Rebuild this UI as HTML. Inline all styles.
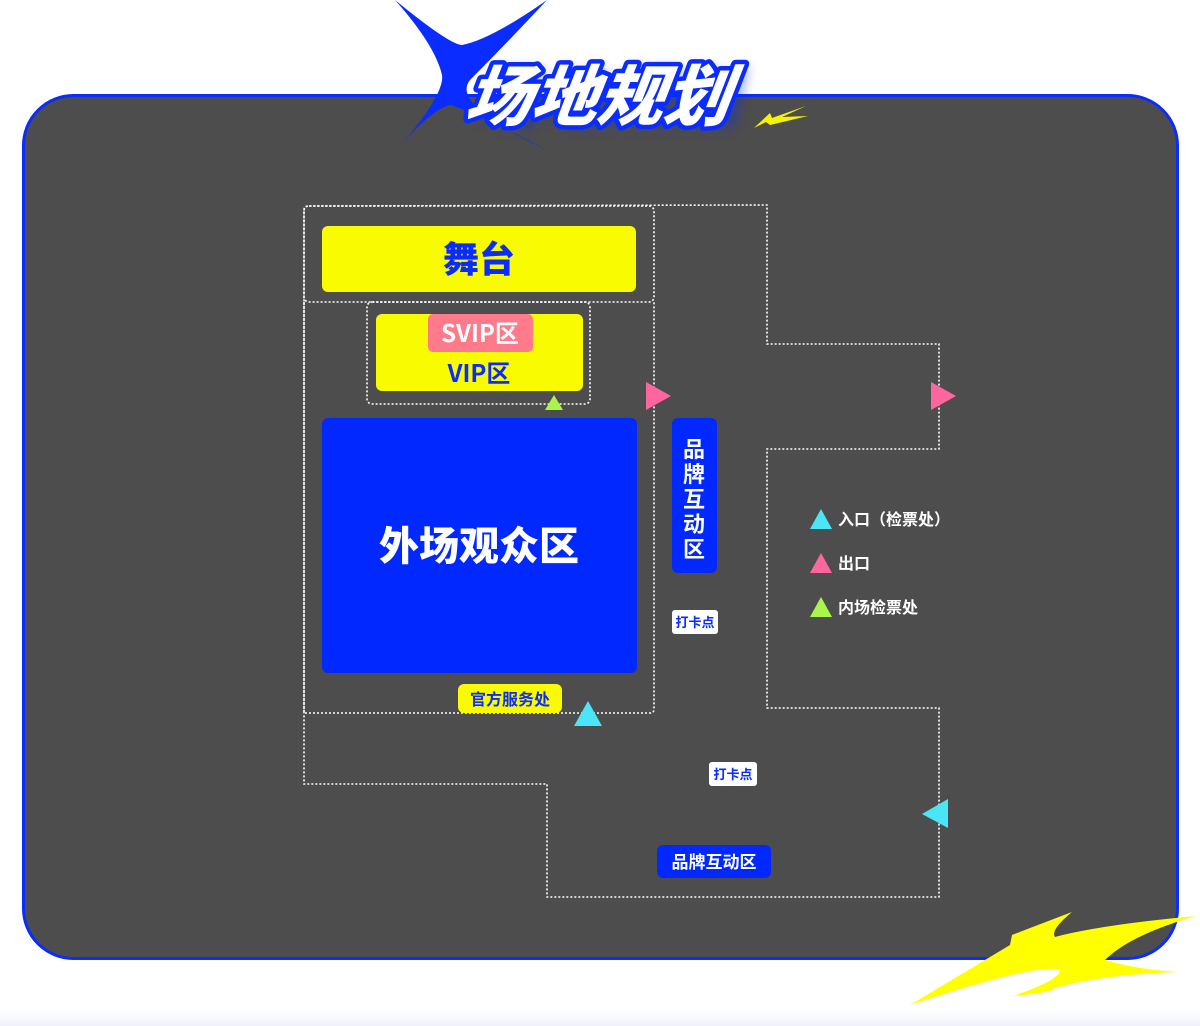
<!DOCTYPE html>
<html><head><meta charset="utf-8"><style>
html,body{margin:0;padding:0;background:#fff;}
body{width:1200px;height:1026px;position:relative;overflow:hidden;font-family:"Liberation Sans","Noto Sans CJK SC",sans-serif;}
svg{position:absolute;left:0;top:0;}
</style></head><body>
<svg width="1200" height="1026" viewBox="0 0 1200 1026" xmlns="http://www.w3.org/2000/svg">
<defs>
<linearGradient id="bg" x1="0" y1="0" x2="0" y2="1"><stop offset="0.985" stop-color="#fff"/><stop offset="1" stop-color="#f0f1fb"/></linearGradient>
<filter id="glow" x="-20%" y="-40%" width="140%" height="180%"><feGaussianBlur stdDeviation="6"/></filter>
</defs>
<rect width="1200" height="1026" fill="url(#bg)"/>
<rect x="23.5" y="95.5" width="1154" height="863" rx="50" fill="#4d4d4d" stroke="#0a2cff" stroke-width="3"/>
<!-- star -->
<path d="M395,0 Q450,45 462,45 Q490,40 547,0 Q505,45 470,80 Q450,105 547,150 Q470,110 450,105 Q430,110 395,152 Q445,95 442,75 Q435,45 395,0 Z" fill="#0a2cff"/>
<!-- title -->
<text x="606" y="122" text-anchor="middle" font-size="66" font-weight="bold" font-style="italic" fill="#0a2cff" opacity="0.6" filter="url(#glow)" font-family="'Noto Sans CJK SC',sans-serif">场地规划</text>
<text x="604" y="120" text-anchor="middle" font-size="66" font-weight="900" font-style="italic" fill="#fff" stroke="#0a2cff" stroke-width="9" paint-order="stroke" stroke-linejoin="round" font-family="'Noto Sans CJK SC',sans-serif" transform="skewX(-8) translate(8,0)">场地规划</text>
<!-- small yellow bolt -->
<path d="M754,128 L770,113 L772,118 L806,106 L782,117 L808,116 L770,125 L766,122 Z" fill="#f5f500"/>
<!-- big yellow bolt -->
<path d="M910,1005 Q960,975 1010,945 L1012,935 Q1030,928 1072,912 Q1050,930 1055,937 Q1100,925 1196,916 Q1130,935 1105,960 Q1140,970 1178,972 Q1100,975 1055,988 Q1050,993 1013,996 Q1060,980 1060,970 Q1040,962 910,1005 Z" fill="#ffff00"/>
<!-- dotted outlines -->
<g fill="none" stroke="#fff" stroke-width="1.6" stroke-dasharray="2,2">
<path d="M304,210 Q304,206 308,206 L767,205 L767,344 L939,344 L939,449 L767,449 L767,708 L939,708 L939,897 L547,897 L547,784 L304,784 Z"/>
<rect x="304" y="206" width="350" height="96" rx="5"/>
<path d="M304,302 L304,713 L650,713 Q654,713 654,709 L654,302"/>
<rect x="367" y="302" width="223" height="102" rx="5"/>
</g>
<!-- stage -->
<rect x="322" y="226" width="314" height="66" rx="6" fill="#f9fb00"/>
<text x="479" y="272" text-anchor="middle" font-size="36" font-weight="900" fill="#0a2cff" font-family="'Noto Sans CJK SC',sans-serif">舞台</text>
<!-- VIP -->
<rect x="376" y="314" width="207" height="77" rx="6" fill="#f9fb00"/>
<rect x="428" y="314" width="105" height="38" rx="5" fill="#ff7a8a"/>
<text x="480" y="342" text-anchor="middle" font-size="24" font-weight="bold" fill="#fff" font-family="'Noto Sans CJK SC',sans-serif">SVIP区</text>
<text x="479" y="382" text-anchor="middle" font-size="24" font-weight="bold" fill="#0a2cff" font-family="'Noto Sans CJK SC',sans-serif">VIP区</text>
<polygon points="554,395 563,410 545,410" fill="#aaf54a"/>
<!-- outer audience -->
<rect x="322" y="418" width="315" height="255" rx="6" fill="#0028ff"/>
<text x="479" y="560" text-anchor="middle" font-size="40" font-weight="900" fill="#fff" font-family="'Noto Sans CJK SC',sans-serif">外场观众区</text>
<!-- pink exits -->
<polygon points="646,382 671,396 646,410" fill="#ff66a0"/>
<polygon points="931,382 956,396 931,410" fill="#ff66a0"/>
<!-- brand vertical -->
<rect x="672" y="418" width="45" height="155" rx="6" fill="#0028ff"/>
<g font-size="22" font-weight="bold" fill="#fff" text-anchor="middle" font-family="'Noto Sans CJK SC',sans-serif">
<text x="694" y="457">品</text><text x="694" y="482">牌</text><text x="694" y="507">互</text><text x="694" y="532">动</text><text x="694" y="557">区</text>
</g>
<!-- check-in spots -->
<rect x="672" y="610" width="46" height="24" rx="3" fill="#fff"/>
<text x="695" y="627" text-anchor="middle" font-size="13" font-weight="bold" fill="#0a2cff" font-family="'Noto Sans CJK SC',sans-serif">打卡点</text>
<rect x="709" y="762" width="48" height="24" rx="3" fill="#fff"/>
<text x="733" y="779" text-anchor="middle" font-size="13" font-weight="bold" fill="#0a2cff" font-family="'Noto Sans CJK SC',sans-serif">打卡点</text>
<!-- service -->
<rect x="458" y="684" width="104" height="29" rx="6" fill="#f9fb00"/>
<text x="510" y="705" text-anchor="middle" font-size="16" font-weight="bold" fill="#0a2cff" font-family="'Noto Sans CJK SC',sans-serif">官方服务处</text>
<!-- cyan -->
<polygon points="588,701 602,726 574,726" fill="#4ae6f7"/>
<polygon points="922,814 948,799 948,828" fill="#4ae6f7"/>
<!-- brand horizontal -->
<rect x="657" y="845" width="114" height="33" rx="6" fill="#0028ff"/>
<text x="714" y="868" text-anchor="middle" font-size="17" font-weight="bold" fill="#fff" font-family="'Noto Sans CJK SC',sans-serif">品牌互动区</text>
<!-- legend -->
<polygon points="821,509 832,529 810,529" fill="#4ae6f7"/>
<polygon points="821,553 832,573 810,573" fill="#ff66a0"/>
<polygon points="821,597 832,617 810,617" fill="#aaf54a"/>
<g font-size="16" font-weight="bold" fill="#fff" font-family="'Noto Sans CJK SC',sans-serif">
<text x="838" y="525">入口（检票处）</text>
<text x="838" y="569">出口</text>
<text x="838" y="613">内场检票处</text>
</g>
</svg>
</body></html>
